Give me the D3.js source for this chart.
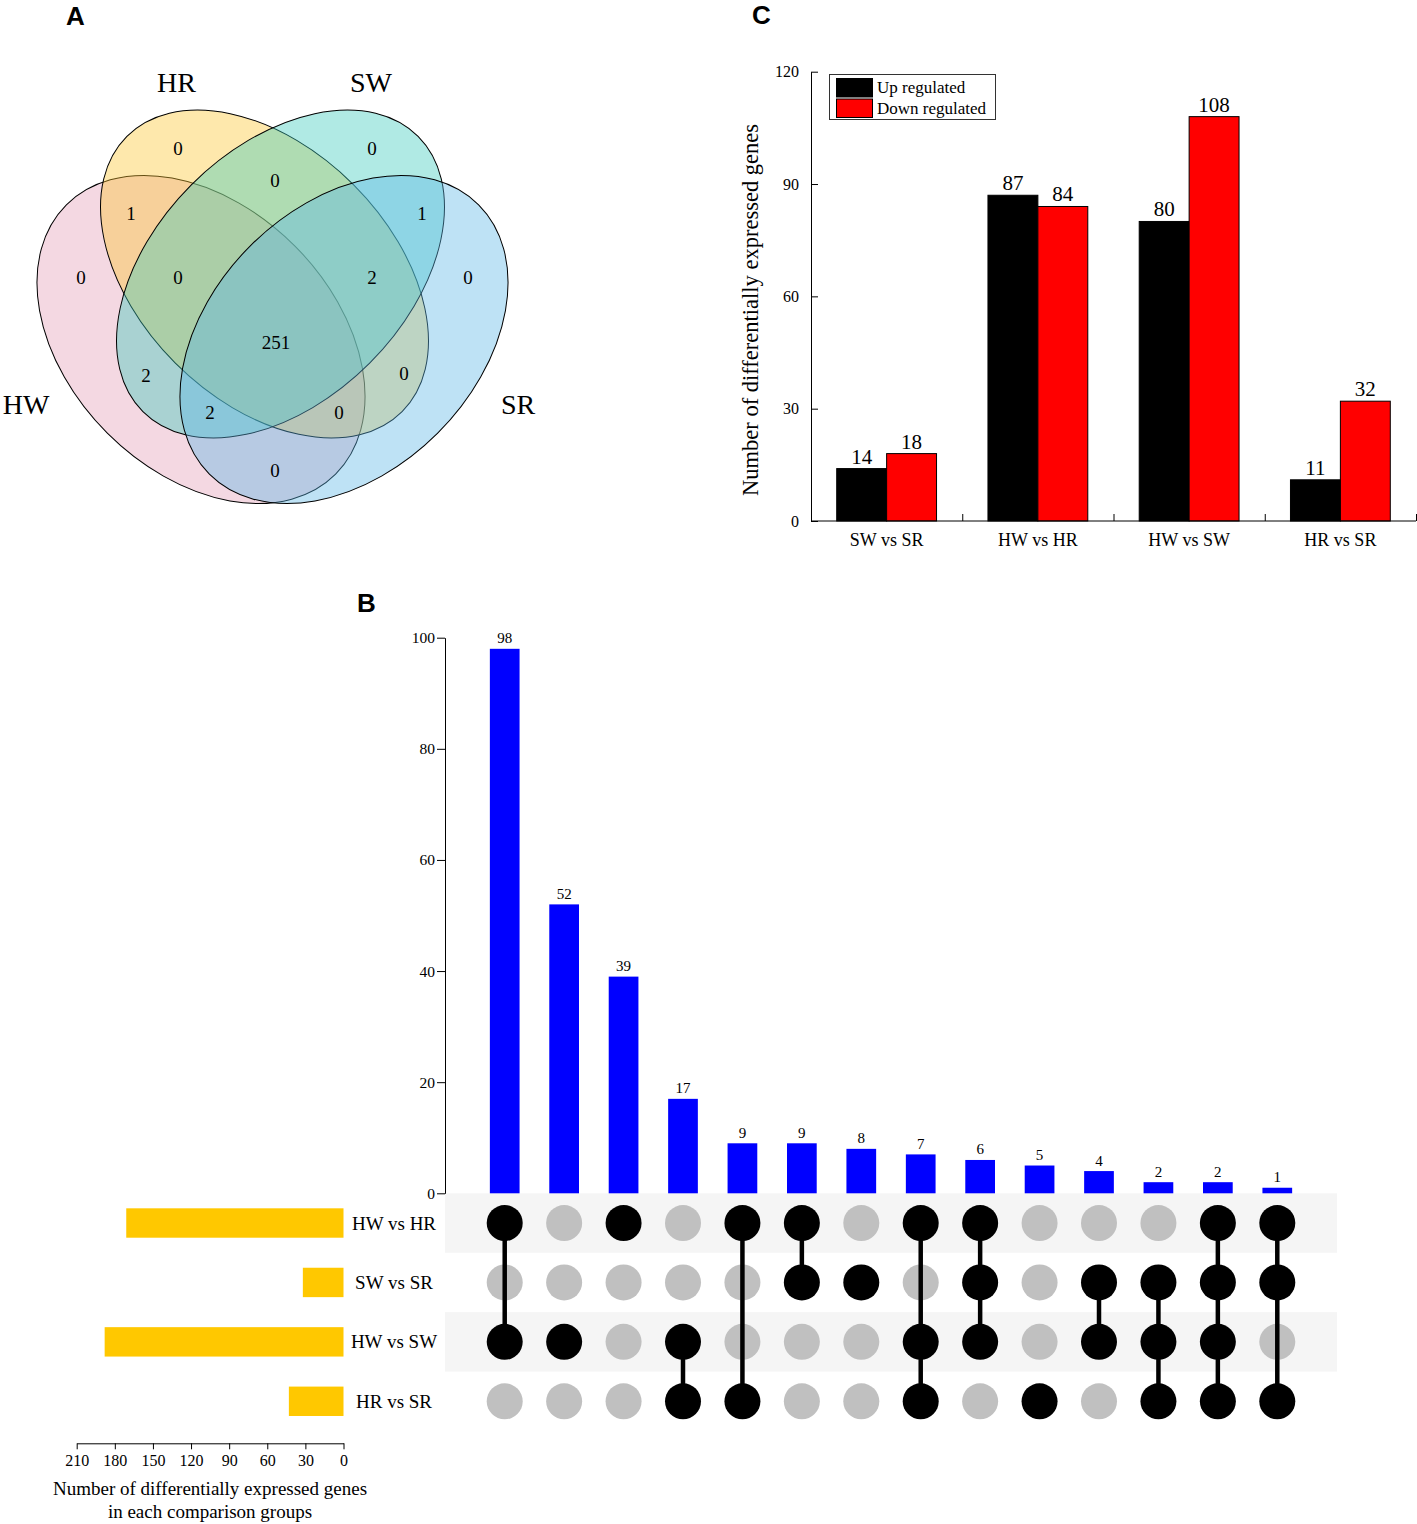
<!DOCTYPE html>
<html>
<head>
<meta charset="utf-8">
<script src="https://cdn.jsdelivr.net/npm/d3@7"></script>
<style>
  body { margin: 0; background: #fff; }
  svg text { font-family: "Liberation Serif", "Times New Roman", serif; fill: #000; }
  .panel-letter { font-family: "Liberation Sans", Arial, sans-serif; font-weight: bold; }
</style>
</head>
<body>
<script>

// ---- data: A (Venn) ----
var vennSets = ["HW", "HR", "SW", "SR"];
var vennRegions = ["HW", "HR", "SW", "SR", "HW&HR", "HW&SW", "HW&SR", "HR&SW", "HR&SR", "SW&SR",
                   "HW&HR&SW", "HW&HR&SR", "HW&SW&SR", "HR&SW&SR", "HW&HR&SW&SR"];
var vennCounts = [0, 0, 0, 0, 1, 2, 0, 0, 0, 1, 0, 0, 2, 2, 251];

// ---- data: C (grouped bars) ----
var degGroups = ["SW vs SR", "HW vs HR", "HW vs SW", "HR vs SR"];
var degSeries = ["Up regulated", "Down regulated"];
var upRegulated = [14, 87, 80, 11];
var downRegulated = [18, 84, 108, 32];
var degTicks = [0, 30, 60, 90, 120];

// ---- data: B (upset) ----
var upsetSets = ["HW vs HR", "SW vs SR", "HW vs SW", "HR vs SR"];
var setSizes = [171, 32, 188, 43];
var intersectionSizes = [98, 52, 39, 17, 9, 9, 8, 7, 6, 5, 4, 2, 2, 1];
var intersectionSets = [
    ["HW vs HR", "HW vs SW"],
    ["HW vs SW"],
    ["HW vs HR"],
    ["HW vs SW", "HR vs SR"],
    ["HW vs HR", "HR vs SR"],
    ["HW vs HR", "SW vs SR"],
    ["SW vs SR"],
    ["HW vs HR", "HW vs SW", "HR vs SR"],
    ["HW vs HR", "SW vs SR", "HW vs SW"],
    ["HR vs SR"],
    ["SW vs SR", "HW vs SW"],
    ["SW vs SR", "HW vs SW", "HR vs SR"],
    ["HW vs HR", "SW vs SR", "HW vs SW", "HR vs SR"],
    ["HW vs HR", "SW vs SR", "HR vs SR"]
];
var intersectionTicks = [0, 20, 40, 60, 80, 100];
var setSizeTicks = [0, 30, 60, 90, 120, 150, 180, 210];

var svg = d3.select("body")
    .append("svg")
    .attr("width", 1417)
    .attr("height", 1524);

// panel letters
[["A", 66, 25], ["C", 752, 24], ["B", 357, 612]].forEach(function(p) {
    svg.append("text").attr("class", "panel-letter")
        .attr("x", p[1]).attr("y", p[2])
        .style("font-size", "26px")
        .text(p[0]);
});

// ================= A: Venn =================
var vennLayout = {
    HW: { cx: 201, cy: 339.5, rx: 190.4, ry: 132.5, rot: 45, fill: "#E49EB6", label: [26, 404] },
    HR: { cx: 264.5, cy: 274, rx: 194.6, ry: 126.1, rot: 45, fill: "#FCC530", label: [176.5, 82] },
    SW: { cx: 280.5, cy: 274, rx: 194.6, ry: 126.1, rot: -45, fill: "#3ACABB", label: [371, 82] },
    SR: { cx: 344, cy: 339.5, rx: 190.4, ry: 132.5, rot: -45, fill: "#5CB6E6", label: [518, 404] }
};
var regionAnchor = {
    "HW": [81, 277], "HR": [178, 148], "SW": [372, 148], "SR": [468, 277],
    "HW&HR": [131, 213], "HW&SW": [146, 375], "HW&SR": [275, 470], "HR&SW": [275, 180],
    "HR&SR": [404, 373], "SW&SR": [422, 213], "HW&HR&SW": [178, 277], "HW&HR&SR": [339, 412],
    "HW&SW&SR": [210, 412], "HR&SW&SR": [372, 277], "HW&HR&SW&SR": [276, 342]
};

var venn = svg.append("g");

venn.selectAll("ellipse")
    .data(vennSets)
    .enter()
    .append("ellipse")
    .attr("cx", d => vennLayout[d].cx)
    .attr("cy", d => vennLayout[d].cy)
    .attr("rx", d => vennLayout[d].rx)
    .attr("ry", d => vennLayout[d].ry)
    .attr("transform", d => `rotate(${vennLayout[d].rot}, ${vennLayout[d].cx}, ${vennLayout[d].cy})`)
    .attr("fill", d => vennLayout[d].fill)
    .attr("fill-opacity", 0.4)
    .attr("stroke", "#000")
    .attr("stroke-width", 1);

venn.selectAll("text.setname")
    .data(vennSets)
    .enter()
    .append("text")
    .attr("class", "setname")
    .attr("x", d => vennLayout[d].label[0])
    .attr("y", d => vennLayout[d].label[1])
    .attr("text-anchor", "middle")
    .attr("dominant-baseline", "central")
    .style("font-size", "28px")
    .text(d => d);

venn.selectAll("text.count")
    .data(vennRegions)
    .enter()
    .append("text")
    .attr("class", "count")
    .attr("x", d => regionAnchor[d][0])
    .attr("y", d => regionAnchor[d][1])
    .attr("text-anchor", "middle")
    .attr("dominant-baseline", "central")
    .style("font-size", "19px")
    .text((d, i) => vennCounts[i]);

// ================= C: grouped bars =================
var cX0 = d3.scaleBand().domain(degGroups).range([811, 1416]).paddingInner(0.34).paddingOuter(0.17);
var cX1 = d3.scaleBand().domain(degSeries).range([0, cX0.bandwidth()]);
var cY = d3.scaleLinear().domain([0, 120]).range([521, 71.7]);
var cColor = d3.scaleOrdinal().domain(degSeries).range(["#000000", "#ff0000"]);

var cChart = svg.append("g");

var degRows = degGroups.map(function(g, i) {
    return { group: g, values: [upRegulated[i], downRegulated[i]] };
});

var cGroups = cChart.selectAll("g.grp")
    .data(degRows)
    .enter()
    .append("g")
    .attr("class", "grp")
    .attr("transform", d => `translate(${cX0(d.group)},0)`);

cGroups.selectAll("rect")
    .data(d => d.values.map((v, j) => ({ s: degSeries[j], v: v })))
    .enter()
    .append("rect")
    .attr("x", d => cX1(d.s))
    .attr("y", d => cY(d.v))
    .attr("width", cX1.bandwidth())
    .attr("height", d => cY(0) - cY(d.v))
    .attr("fill", d => cColor(d.s))
    .attr("stroke", "#000")
    .attr("stroke-width", 1);

cGroups.selectAll("text")
    .data(d => d.values.map((v, j) => ({ s: degSeries[j], v: v })))
    .enter()
    .append("text")
    .attr("x", d => cX1(d.s) + cX1.bandwidth() / 2)
    .attr("y", d => cY(d.v) - 5)
    .attr("text-anchor", "middle")
    .style("font-size", "21px")
    .text(d => d.v);

// y axis (ticks inward)
var cYAxis = cChart.append("g")
    .attr("transform", "translate(811,0)")
    .call(d3.axisLeft(cY).tickValues(degTicks).tickSizeInner(-7).tickSizeOuter(0).tickPadding(12));
cYAxis.selectAll("text").style("font-size", "16px").attr("font-family", null);

// x axis with group labels
var cXAxis = cChart.append("g")
    .attr("transform", "translate(0,521)")
    .call(d3.axisBottom(cX0).tickSize(0).tickPadding(12));
cXAxis.selectAll("text").style("font-size", "18px").attr("font-family", null);
cXAxis.select(".domain").attr("d", "M811,0H1416");

// boundary ticks pointing up
var cBound = d3.scaleLinear().domain([0, degGroups.length]).range([811, 1416]);
cChart.append("g")
    .attr("transform", "translate(0,521)")
    .call(d3.axisBottom(cBound).tickValues([1, 2, 3, 4]).tickSizeInner(-7).tickSizeOuter(0).tickFormat(""))
    .select(".domain").remove();

cChart.selectAll(".domain, .tick line").attr("stroke", "#000").attr("stroke-width", 1);

// y title
cChart.append("text")
    .attr("transform", "translate(750,310) rotate(-90)")
    .attr("text-anchor", "middle")
    .attr("dominant-baseline", "central")
    .style("font-size", "22.5px")
    .text("Number of differentially expressed genes");

// legend
var legend = cChart.append("g");
legend.append("rect")
    .attr("x", 829.5).attr("y", 74.5).attr("width", 166).attr("height", 45)
    .attr("fill", "#fff").attr("stroke", "#333").attr("stroke-width", 1);
legend.selectAll("rect.sw")
    .data(degSeries)
    .enter()
    .append("rect")
    .attr("class", "sw")
    .attr("x", 836.5)
    .attr("y", (d, i) => 78.5 + i * 20.5)
    .attr("width", 36)
    .attr("height", 18.5)
    .attr("fill", d => cColor(d))
    .attr("stroke", "#000");
legend.selectAll("text")
    .data(degSeries)
    .enter()
    .append("text")
    .attr("x", 877)
    .attr("y", (d, i) => 87.5 + i * 20.5)
    .attr("dominant-baseline", "central")
    .style("font-size", "17px")
    .text(d => d);

// ================= B: upset =================
var bCol = d3.scaleBand().domain(d3.range(intersectionSizes.length)).range([475, 1307]).paddingInner(0.5).paddingOuter(0.25);
var bY = d3.scaleLinear().domain([0, 100]).range([1193.3, 637.7]);
var bRow = d3.scaleBand().domain(upsetSets).range([1193.3, 1431]);
var bSize = d3.scaleLinear().domain([0, 210]).range([343.5, 76.7]);

var bChart = svg.append("g");

// stripes
bChart.selectAll("rect.stripe")
    .data(upsetSets.filter((d, i) => i % 2 === 0))
    .enter()
    .append("rect")
    .attr("class", "stripe")
    .attr("x", 445)
    .attr("y", d => bRow(d))
    .attr("width", 1337 - 445)
    .attr("height", bRow.step())
    .attr("fill", "#f5f5f5");

// intersection bars
bChart.selectAll("rect.ibar")
    .data(intersectionSizes)
    .enter()
    .append("rect")
    .attr("class", "ibar")
    .attr("x", (d, i) => bCol(i))
    .attr("y", d => bY(d))
    .attr("width", bCol.bandwidth())
    .attr("height", d => bY(0) - bY(d))
    .attr("fill", "#0000ff");

bChart.selectAll("text.ilab")
    .data(intersectionSizes)
    .enter()
    .append("text")
    .attr("class", "ilab")
    .attr("x", (d, i) => bCol(i) + bCol.bandwidth() / 2)
    .attr("y", d => bY(d) - 5.5)
    .attr("text-anchor", "middle")
    .style("font-size", "15px")
    .text(d => d);

var bYAxis = bChart.append("g")
    .attr("transform", "translate(445,0)")
    .call(d3.axisLeft(bY).tickValues(intersectionTicks).tickSizeInner(8).tickSizeOuter(0).tickPadding(2));
bYAxis.selectAll("text").style("font-size", "15.5px").attr("font-family", null);
bYAxis.selectAll(".domain, .tick line").attr("stroke", "#000");

// matrix
var cells = [];
intersectionSets.forEach(function(sets, i) {
    upsetSets.forEach(function(s) {
        cells.push({ col: i, set: s, on: sets.indexOf(s) >= 0 });
    });
});
var colX = i => bCol(i) + bCol.bandwidth() / 2;
var rowY = s => bRow(s) + bRow.step() / 2;

bChart.selectAll("circle.off")
    .data(cells.filter(d => !d.on))
    .enter()
    .append("circle")
    .attr("class", "off")
    .attr("cx", d => colX(d.col))
    .attr("cy", d => rowY(d.set))
    .attr("r", 18)
    .attr("fill", "#c0c0c0");

bChart.selectAll("line.link")
    .data(intersectionSets.map((s, i) => ({ col: i, sets: s })).filter(d => d.sets.length > 1))
    .enter()
    .append("line")
    .attr("class", "link")
    .attr("x1", d => colX(d.col))
    .attr("x2", d => colX(d.col))
    .attr("y1", d => d3.min(d.sets, rowY))
    .attr("y2", d => d3.max(d.sets, rowY))
    .attr("stroke", "#000")
    .attr("stroke-width", 4.5);

bChart.selectAll("circle.on")
    .data(cells.filter(d => d.on))
    .enter()
    .append("circle")
    .attr("class", "on")
    .attr("cx", d => colX(d.col))
    .attr("cy", d => rowY(d.set))
    .attr("r", 18)
    .attr("fill", "#000");

// set names
bChart.selectAll("text.setlab")
    .data(upsetSets)
    .enter()
    .append("text")
    .attr("class", "setlab")
    .attr("x", 394)
    .attr("y", d => rowY(d))
    .attr("text-anchor", "middle")
    .attr("dominant-baseline", "central")
    .style("font-size", "19px")
    .text(d => d);

// set size bars
bChart.selectAll("rect.sbar")
    .data(setSizes)
    .enter()
    .append("rect")
    .attr("class", "sbar")
    .attr("x", d => bSize(d))
    .attr("y", (d, i) => rowY(upsetSets[i]) - 14.7)
    .attr("width", d => bSize(0) - bSize(d))
    .attr("height", 29.4)
    .attr("fill", "#ffc800");

var bXAxis = bChart.append("g")
    .attr("transform", "translate(0,1443.3)")
    .call(d3.axisBottom(bSize).tickValues(setSizeTicks).tickSizeInner(6).tickSizeOuter(0).tickPadding(5));
bXAxis.selectAll("text").style("font-size", "16px").attr("font-family", null);
bXAxis.selectAll(".domain, .tick line").attr("stroke", "#000");

bChart.append("text")
    .attr("x", 210).attr("y", 1488.3)
    .attr("text-anchor", "middle").attr("dominant-baseline", "central")
    .style("font-size", "19px")
    .text("Number of differentially expressed genes");
bChart.append("text")
    .attr("x", 210).attr("y", 1511.7)
    .attr("text-anchor", "middle").attr("dominant-baseline", "central")
    .style("font-size", "19px")
    .text("in each comparison groups");

</script>
</body>
</html>
